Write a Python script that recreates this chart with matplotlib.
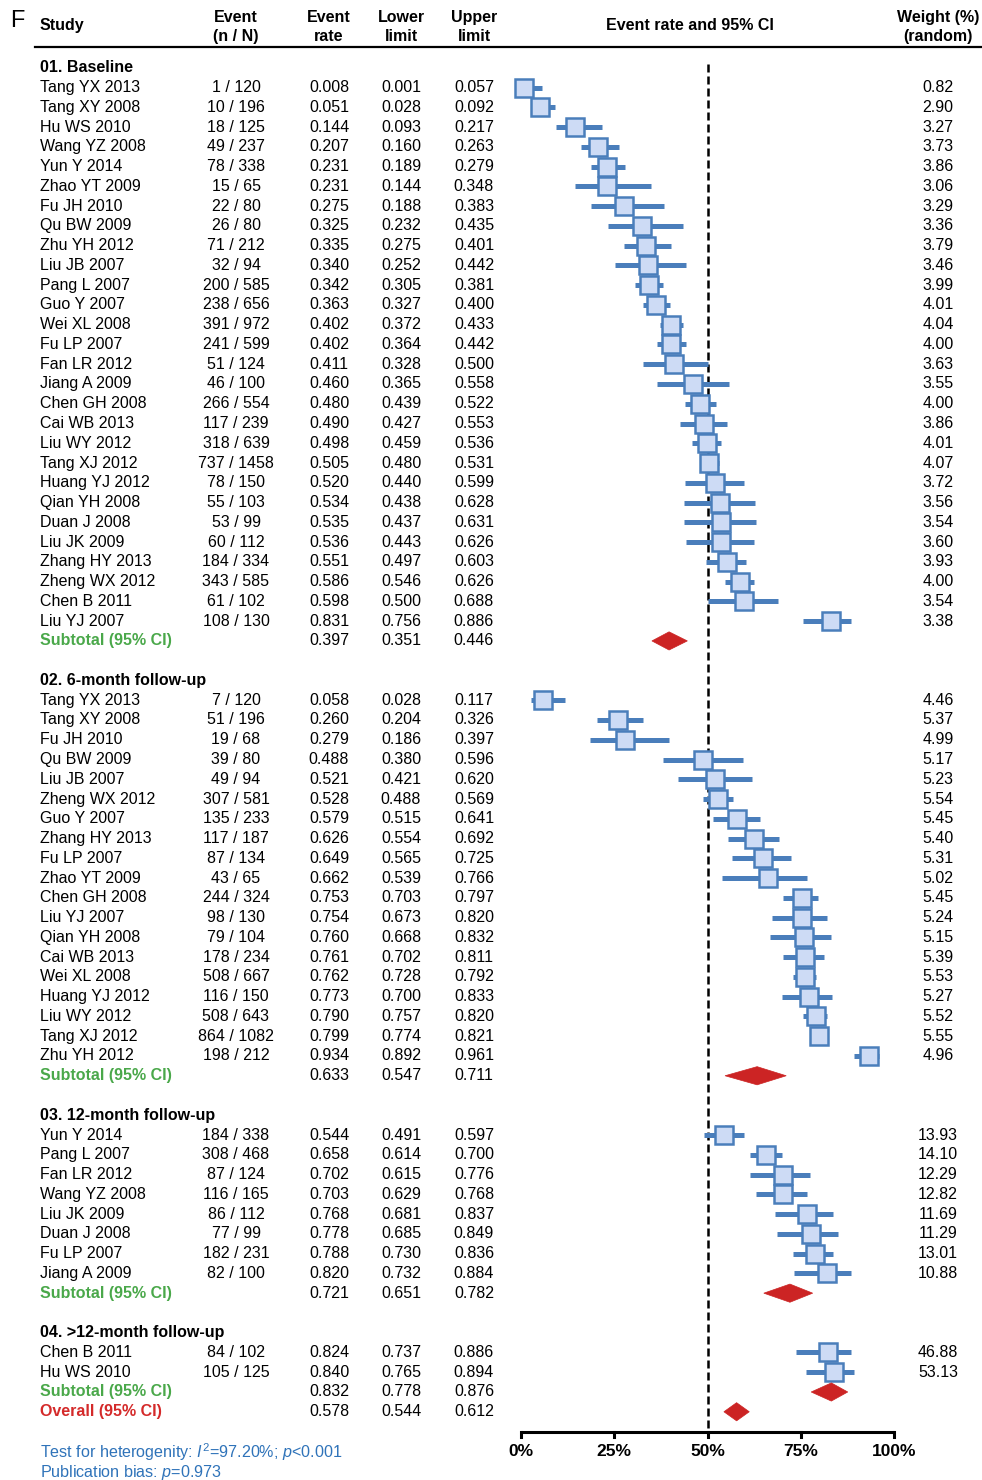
import matplotlib
matplotlib.use("Agg")
import matplotlib.pyplot as plt
from matplotlib.transforms import blended_transform_factory

plt.rcParams['font.family'] = ['Liberation Sans', 'DejaVu Sans']
plt.rcParams['mathtext.fontset'] = 'custom'
plt.rcParams['mathtext.rm'] = 'Liberation Sans'
plt.rcParams['mathtext.it'] = 'Liberation Sans:italic'

# ---------------- data ----------------
group_titles = ["01. Baseline", "02. 6-month follow-up", "03. 12-month follow-up", "04. >12-month follow-up"]

g1_studies = ["Tang YX 2013", "Tang XY 2008", "Hu WS 2010", "Wang YZ 2008", "Yun Y 2014", "Zhao YT 2009",
              "Fu JH 2010", "Qu BW 2009", "Zhu YH 2012", "Liu JB 2007", "Pang L 2007", "Guo Y 2007",
              "Wei XL 2008", "Fu LP 2007", "Fan LR 2012", "Jiang A 2009", "Chen GH 2008", "Cai WB 2013",
              "Liu WY 2012", "Tang XJ 2012", "Huang YJ 2012", "Qian YH 2008", "Duan J 2008", "Liu JK 2009",
              "Zhang HY 2013", "Zheng WX 2012", "Chen B 2011", "Liu YJ 2007"]
g1_events = ["1 / 120", "10 / 196", "18 / 125", "49 / 237", "78 / 338", "15 / 65", "22 / 80", "26 / 80",
             "71 / 212", "32 / 94", "200 / 585", "238 / 656", "391 / 972", "241 / 599", "51 / 124",
             "46 / 100", "266 / 554", "117 / 239", "318 / 639", "737 / 1458", "78 / 150", "55 / 103",
             "53 / 99", "60 / 112", "184 / 334", "343 / 585", "61 / 102", "108 / 130"]
g1_rate = [0.008, 0.051, 0.144, 0.207, 0.231, 0.231, 0.275, 0.325, 0.335, 0.340, 0.342, 0.363, 0.402, 0.402,
           0.411, 0.460, 0.480, 0.490, 0.498, 0.505, 0.520, 0.534, 0.535, 0.536, 0.551, 0.586, 0.598, 0.831]
g1_lower = [0.001, 0.028, 0.093, 0.160, 0.189, 0.144, 0.188, 0.232, 0.275, 0.252, 0.305, 0.327, 0.372, 0.364,
            0.328, 0.365, 0.439, 0.427, 0.459, 0.480, 0.440, 0.438, 0.437, 0.443, 0.497, 0.546, 0.500, 0.756]
g1_upper = [0.057, 0.092, 0.217, 0.263, 0.279, 0.348, 0.383, 0.435, 0.401, 0.442, 0.381, 0.400, 0.433, 0.442,
            0.500, 0.558, 0.522, 0.553, 0.536, 0.531, 0.599, 0.628, 0.631, 0.626, 0.603, 0.626, 0.688, 0.886]
g1_weight = ["0.82", "2.90", "3.27", "3.73", "3.86", "3.06", "3.29", "3.36", "3.79", "3.46", "3.99", "4.01",
             "4.04", "4.00", "3.63", "3.55", "4.00", "3.86", "4.01", "4.07", "3.72", "3.56", "3.54", "3.60",
             "3.93", "4.00", "3.54", "3.38"]
g1_sub = [0.397, 0.351, 0.446]

g2_studies = ["Tang YX 2013", "Tang XY 2008", "Fu JH 2010", "Qu BW 2009", "Liu JB 2007", "Zheng WX 2012",
              "Guo Y 2007", "Zhang HY 2013", "Fu LP 2007", "Zhao YT 2009", "Chen GH 2008", "Liu YJ 2007",
              "Qian YH 2008", "Cai WB 2013", "Wei XL 2008", "Huang YJ 2012", "Liu WY 2012", "Tang XJ 2012",
              "Zhu YH 2012"]
g2_events = ["7 / 120", "51 / 196", "19 / 68", "39 / 80", "49 / 94", "307 / 581", "135 / 233", "117 / 187",
             "87 / 134", "43 / 65", "244 / 324", "98 / 130", "79 / 104", "178 / 234", "508 / 667",
             "116 / 150", "508 / 643", "864 / 1082", "198 / 212"]
g2_rate = [0.058, 0.260, 0.279, 0.488, 0.521, 0.528, 0.579, 0.626, 0.649, 0.662, 0.753, 0.754, 0.760,
           0.761, 0.762, 0.773, 0.790, 0.799, 0.934]
g2_lower = [0.028, 0.204, 0.186, 0.380, 0.421, 0.488, 0.515, 0.554, 0.565, 0.539, 0.703, 0.673, 0.668,
            0.702, 0.728, 0.700, 0.757, 0.774, 0.892]
g2_upper = [0.117, 0.326, 0.397, 0.596, 0.620, 0.569, 0.641, 0.692, 0.725, 0.766, 0.797, 0.820, 0.832,
            0.811, 0.792, 0.833, 0.820, 0.821, 0.961]
g2_weight = ["4.46", "5.37", "4.99", "5.17", "5.23", "5.54", "5.45", "5.40", "5.31", "5.02", "5.45", "5.24",
             "5.15", "5.39", "5.53", "5.27", "5.52", "5.55", "4.96"]
g2_sub = [0.633, 0.547, 0.711]

g3_studies = ["Yun Y 2014", "Pang L 2007", "Fan LR 2012", "Wang YZ 2008", "Liu JK 2009", "Duan J 2008",
              "Fu LP 2007", "Jiang A 2009"]
g3_events = ["184 / 338", "308 / 468", "87 / 124", "116 / 165", "86 / 112", "77 / 99", "182 / 231", "82 / 100"]
g3_rate = [0.544, 0.658, 0.702, 0.703, 0.768, 0.778, 0.788, 0.820]
g3_lower = [0.491, 0.614, 0.615, 0.629, 0.681, 0.685, 0.730, 0.732]
g3_upper = [0.597, 0.700, 0.776, 0.768, 0.837, 0.849, 0.836, 0.884]
g3_weight = ["13.93", "14.10", "12.29", "12.82", "11.69", "11.29", "13.01", "10.88"]
g3_sub = [0.721, 0.651, 0.782]

g4_studies = ["Chen B 2011", "Hu WS 2010"]
g4_events = ["84 / 102", "105 / 125"]
g4_rate = [0.824, 0.840]
g4_lower = [0.737, 0.765]
g4_upper = [0.886, 0.894]
g4_weight = ["46.88", "53.13"]
g4_sub = [0.832, 0.778, 0.876]

overall = [0.578, 0.544, 0.612]

x_ticks = [0, 0.25, 0.5, 0.75, 1.0]
x_ticklabels = ["0%", "25%", "50%", "75%", "100%"]

groups = [
    (g1_studies, g1_events, g1_rate, g1_lower, g1_upper, g1_weight, g1_sub),
    (g2_studies, g2_events, g2_rate, g2_lower, g2_upper, g2_weight, g2_sub),
    (g3_studies, g3_events, g3_rate, g3_lower, g3_upper, g3_weight, g3_sub),
    (g4_studies, g4_events, g4_rate, g4_lower, g4_upper, g4_weight, g4_sub),
]

# ---------------- styling ----------------
W, H = 982, 1480
FS = 11.5
BLUE_EDGE = '#4a7ebb'
BLUE_FILL = '#cddbf5'
GREEN = '#4aa84a'
RED = '#d42a2a'
DIAMOND = '#cc2424'
NOTE = '#2f73b9'

fig = plt.figure(figsize=(W / 100, H / 100), dpi=100)
ax = fig.add_axes([0, 0, 1, 1])
ax.axis('off')

# x: rate 0 -> px 521, rate 1 -> px 894 ; y: row index, row 0 -> px 87, 19.765 px per row
px0, px1 = 521, 894
scale = px1 - px0
ax.set_xlim(-px0 / scale, (W - px0) / scale)
row_px0, row_h = 87.5, 19.765
ax.set_ylim((H - row_px0) / row_h, -row_px0 / row_h)

tr = blended_transform_factory(ax.transAxes, ax.transData)
def fx(px):
    return px / W

X_STUDY, X_EVT, X_RATE, X_LO, X_UP, X_W = fx(40), fx(236), fx(329), fx(401), fx(474), fx(938)

def row_text(r, name, evt, rate, lo, up, w, color='black', bold=False):
    fw = 'bold' if bold else 'normal'
    ax.text(X_STUDY, r, name, transform=tr, ha='left', va='center', fontsize=FS, color=color, fontweight=fw)
    if evt:
        ax.text(X_EVT, r, evt, transform=tr, ha='center', va='center', fontsize=FS)
    ax.text(X_RATE, r, f"{rate:.3f}", transform=tr, ha='center', va='center', fontsize=FS)
    ax.text(X_LO, r, f"{lo:.3f}", transform=tr, ha='center', va='center', fontsize=FS)
    ax.text(X_UP, r, f"{up:.3f}", transform=tr, ha='center', va='center', fontsize=FS)
    if w:
        ax.text(X_W, r, w, transform=tr, ha='center', va='center', fontsize=FS)

def diamond(r, est, lo, up, color=DIAMOND):
    h = 0.46
    ax.fill([lo, est, up, est], [r, r - h, r, r + h], color=color, lw=0.5, ec=color, zorder=4)

# header
ax.text(fx(10), -3.35, "F", transform=tr, ha='left', va='center', fontsize=17)
ax.text(X_STUDY, -3.15, "Study", transform=tr, ha='left', va='center', fontsize=FS, fontweight='bold')
for xx, t1, t2 in [(X_EVT, "Event", "(n / N)"), (X_RATE, "Event", "rate"), (X_LO, "Lower", "limit"),
                   (X_UP, "Upper", "limit"), (X_W, "Weight (%)", "(random)")]:
    ax.text(xx, -3.55, t1, transform=tr, ha='center', va='center', fontsize=FS, fontweight='bold')
    ax.text(xx, -2.6, t2, transform=tr, ha='center', va='center', fontsize=FS, fontweight='bold')
ax.text(fx(690), -3.15, "Event rate and 95% CI", transform=tr, ha='center', va='center',
        fontsize=FS, fontweight='bold')
ax.plot([fx(35), fx(982)], [-2.05, -2.05], transform=tr, color='black', lw=1.6, clip_on=False)

# body
r = -1
for gi, (studies, events, rate, lower, upper, weight, sub) in enumerate(groups):
    ax.text(X_STUDY, r, group_titles[gi], transform=tr, ha='left', va='center', fontsize=FS, fontweight='bold')
    r += 1
    rows = list(range(r, r + len(studies)))
    for i, rr in enumerate(rows):
        row_text(rr, studies[i], events[i], rate[i], lower[i], upper[i], weight[i])
    ax.hlines(rows, lower, upper, color=BLUE_EDGE, lw=3.6, zorder=2)
    ax.plot(rate, rows, 's', ms=12.5, mfc=BLUE_FILL, mec=BLUE_EDGE, mew=1.8, zorder=3, linestyle='none')
    r += len(studies)
    row_text(r, "Subtotal (95% CI)", None, sub[0], sub[1], sub[2], None, color=GREEN, bold=True)
    diamond(r, *sub)
    r += 1
    if gi < len(groups) - 1:
        r += 1

row_text(r, "Overall (95% CI)", None, overall[0], overall[1], overall[2], None, color=RED, bold=True)
diamond(r, *overall)
axis_row = r + 1

# reference line
ax.plot([0.5, 0.5], [-1.2, axis_row], color='black', lw=1.8, ls=(0, (3.2, 1.6)), zorder=1)

# x axis
ax.plot([0, 1], [axis_row, axis_row], color='black', lw=2.2, zorder=5, solid_capstyle='butt')
for t, lab in zip(x_ticks, x_ticklabels):
    ax.plot([t, t], [axis_row, axis_row + 0.3], color='black', lw=2.2, zorder=5)
    ax.text(t, axis_row + 1.0, lab, ha='center', va='center', fontsize=12.5, fontweight='bold')

# footnotes
ax.text(X_STUDY, axis_row + 1.05, r"Test for heterogenity: $\mathit{I}^2$=97.20%; $\mathit{p}$<0.001",
        transform=tr, ha='left', va='center', fontsize=11.6, color=NOTE)
ax.text(X_STUDY, axis_row + 2.05, r"Publication bias: $\mathit{p}$=0.973",
        transform=tr, ha='left', va='center', fontsize=11.6, color=NOTE)

fig.savefig("out.png", dpi=100)
